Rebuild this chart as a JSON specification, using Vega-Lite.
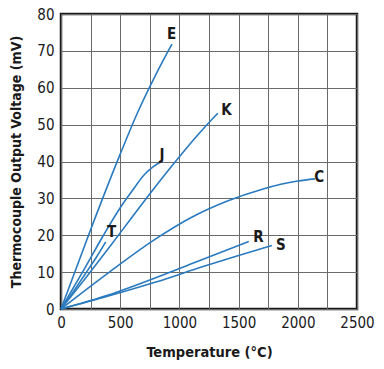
{
  "$schema": "https://vega.github.io/schema/vega-lite/v6.json",
  "autosize": {"type": "none"},
  "width": 296,
  "height": 295,
  "padding": {"left": 61, "top": 14, "right": 27, "bottom": 60},
  "background": "white",
  "config": {
    "view": {"stroke": "#1a1a1a", "strokeWidth": 2.5},
    "font": "'DejaVu Sans Condensed', 'Liberation Sans Narrow', Roboto, sans-serif"
  },
  "datasets": {
    "curves": [
      {"tc": "E", "t": 0, "v": 0}, {"tc": "E", "t": 250, "v": 21.5}, {"tc": "E", "t": 500, "v": 42}, {"tc": "E", "t": 650, "v": 53.5}, {"tc": "E", "t": 800, "v": 63.5}, {"tc": "E", "t": 937, "v": 71.8},
      {"tc": "J", "t": 0, "v": 0}, {"tc": "J", "t": 200, "v": 11}, {"tc": "J", "t": 355, "v": 19.8}, {"tc": "J", "t": 503, "v": 27.6}, {"tc": "J", "t": 600, "v": 32}, {"tc": "J", "t": 709, "v": 36.6}, {"tc": "J", "t": 780, "v": 38.6}, {"tc": "J", "t": 836, "v": 39.8},
      {"tc": "K", "t": 0, "v": 0}, {"tc": "K", "t": 200, "v": 8.1}, {"tc": "K", "t": 400, "v": 16.4}, {"tc": "K", "t": 600, "v": 24.9}, {"tc": "K", "t": 800, "v": 33.3}, {"tc": "K", "t": 1000, "v": 41.3}, {"tc": "K", "t": 1200, "v": 48.8}, {"tc": "K", "t": 1325, "v": 53.1},
      {"tc": "T", "t": 0, "v": 0}, {"tc": "T", "t": 100, "v": 4.5}, {"tc": "T", "t": 200, "v": 9.3}, {"tc": "T", "t": 300, "v": 14.1}, {"tc": "T", "t": 378, "v": 18.2},
      {"tc": "C", "t": 0, "v": 0}, {"tc": "C", "t": 400, "v": 9.8}, {"tc": "C", "t": 800, "v": 19}, {"tc": "C", "t": 1100, "v": 24.8}, {"tc": "C", "t": 1400, "v": 29.2}, {"tc": "C", "t": 1700, "v": 32.5}, {"tc": "C", "t": 2000, "v": 34.7}, {"tc": "C", "t": 2145, "v": 35.3},
      {"tc": "R", "t": 0, "v": 0}, {"tc": "R", "t": 400, "v": 3.8}, {"tc": "R", "t": 800, "v": 8.5}, {"tc": "R", "t": 1200, "v": 13.5}, {"tc": "R", "t": 1586, "v": 18.3},
      {"tc": "S", "t": 0, "v": 0}, {"tc": "S", "t": 400, "v": 3.5}, {"tc": "S", "t": 800, "v": 7.3}, {"tc": "S", "t": 1200, "v": 11.5}, {"tc": "S", "t": 1500, "v": 14.5}, {"tc": "S", "t": 1781, "v": 17.2}
    ],
    "labels": [
      {"tc": "E", "t": 934, "v": 74.5},
      {"tc": "K", "t": 1398, "v": 53.9},
      {"tc": "J", "t": 853, "v": 41.8},
      {"tc": "T", "t": 428, "v": 20.8},
      {"tc": "C", "t": 2181, "v": 35.7},
      {"tc": "R", "t": 1667, "v": 19.4},
      {"tc": "S", "t": 1857, "v": 17.3}
    ]
  },
  "encoding": {
    "x": {
      "field": "t", "type": "quantitative",
      "scale": {"domain": [0, 2500], "nice": false},
      "axis": {
        "title": "Temperature (°C)",
        "values": [0, 250, 500, 750, 1000, 1250, 1500, 1750, 2000, 2250, 2500],
        "labelExpr": "datum.value % 500 === 0 ? datum.label : ''",
        "format": "d",
        "domain": false, "ticks": false,
        "grid": true, "gridColor": "#6a6a6a", "gridWidth": 1, "gridOpacity": 1,
        "labelFontSize": 15, "labelColor": "#1a1a1a", "labelPadding": 6,
        "labelFlush": false,
        "titleFontSize": 14.5, "titleFontWeight": "bold", "titleColor": "#1a1a1a", "titlePadding": 15
      }
    },
    "y": {
      "field": "v", "type": "quantitative",
      "scale": {"domain": [0, 80], "nice": false},
      "axis": {
        "title": "Thermocouple Output Voltage (mV)",
        "values": [0, 10, 20, 30, 40, 50, 60, 70, 80],
        "domain": false, "ticks": false,
        "grid": true, "gridColor": "#6a6a6a", "gridWidth": 1, "gridOpacity": 1,
        "labelFontSize": 15, "labelColor": "#1a1a1a", "labelPadding": 7,
        "labelFlush": false,
        "titleFontSize": 14, "titleFontWeight": "bold", "titleColor": "#1a1a1a", "titlePadding": 13
      }
    }
  },
  "layer": [
    {
      "data": {"name": "curves"},
      "mark": {"type": "line", "interpolate": "monotone", "color": "#2a7abf", "strokeWidth": 1.6},
      "encoding": {"detail": {"field": "tc"}}
    },
    {
      "data": {"name": "labels"},
      "mark": {"type": "text", "fontSize": 15, "fontWeight": "bold", "color": "#1a1a1a", "align": "center", "baseline": "middle"},
      "encoding": {"text": {"field": "tc"}}
    }
  ]
}
